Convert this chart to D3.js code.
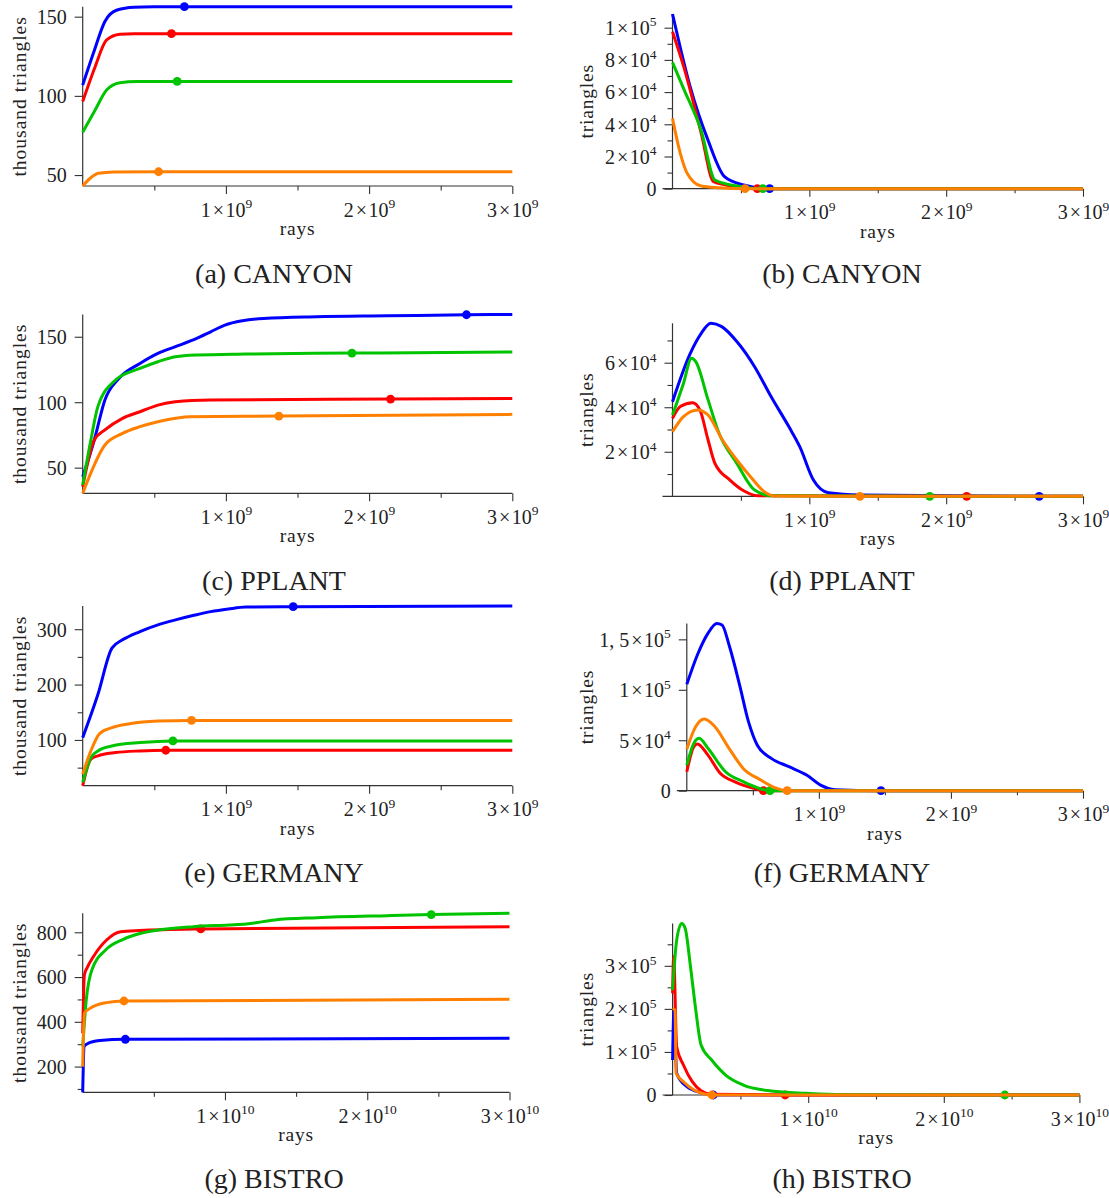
<!DOCTYPE html>
<html><head><meta charset="utf-8">
<script src="https://cdn.jsdelivr.net/npm/d3@7"></script>
<style>
body{margin:0;background:#fff}
text{font-family:"Liberation Serif","Times New Roman",serif;fill:#222}
</style>
</head><body>
<svg id="c" width="1109" height="1198" style="background:#fff"></svg>
<script>
// ---- colours in series order: blue, red, green, orange
const seriesColors = ["#0000ff", "#ff0000", "#00c400", "#ff8000"];

// ---- tick values
const xMajor9 = [1e9, 2e9, 3e9];
const xMinor9 = [0.5e9, 1.5e9, 2.5e9];
const xMajor10 = [1e10, 2e10, 3e10];
const xMinor10 = [0.5e10, 1.5e10, 2.5e10];
const aYMajor = [50, 100, 150];
const bYMajor = [0, 2e4, 4e4, 6e4, 8e4, 1e5];
const bYMinor = [1e4, 3e4, 5e4, 7e4, 9e4];
const cYMajor = [50, 100, 150];
const dYMajor = [2e4, 4e4, 6e4];
const dYMinor = [1e4, 3e4, 5e4, 7e4];
const eYMajor = [100, 200, 300];
const eYMinor = [50, 150, 250];
const fYMajor = [0, 5e4, 1e5, 1.5e5];
const gYMajor = [200, 400, 600, 800];
const gYMinor = [100, 300, 500, 700];
const hYMajor = [0, 1e5, 2e5, 3e5];
const hYMinor = [5e4, 1.5e5, 2.5e5, 3.5e5];

// ---- (a) CANYON: thousand triangles vs rays
const canyonTotalBlue = [[0,106.8],[0.075e9,127],[0.155e9,147],[0.24e9,154.2],[0.36e9,155.9],[0.5e9,156.2],[0.71e9,156.3],[3e9,156.3]];
const canyonTotalRed = [[0,96.4],[0.087e9,118.4],[0.167e9,135.3],[0.26e9,138.9],[0.36e9,139.3],[0.62e9,139.3],[3e9,139.3]];
const canyonTotalGreen = [[0,77],[0.087e9,91.1],[0.167e9,103.7],[0.26e9,108.3],[0.38e9,109.1],[0.66e9,109.1],[3e9,109.1]];
const canyonTotalOrange = [[0,43.1],[0.052e9,48],[0.11e9,51.1],[0.215e9,52],[0.53e9,52.1],[3e9,52.1]];
const canyonDots = [[0.71e9,156.3],[0.62e9,139.3],[0.66e9,109.1],[0.53e9,52.1]];
// ---- (b) CANYON: triangles vs rays
const canyonNewBlue = [[0,108.5e3],[0.056e9,88e3],[0.13e9,63e3],[0.26e9,30e3],[0.38e9,7.5e3],[0.52e9,2.3e3],[0.71e9,0],[3e9,0]];
const canyonNewRed = [[0,97.5e3],[0.082e9,75.8e3],[0.21e9,34.4e3],[0.30e9,4.3e3],[0.39e9,2.3e3],[0.62e9,0],[3e9,0]];
const canyonNewGreen = [[0,78.5e3],[0.082e9,62e3],[0.21e9,36e3],[0.31e9,5.4e3],[0.47e9,1.7e3],[0.66e9,0],[3e9,0]];
const canyonNewOrange = [[0,43.7e3],[0.057e9,22e3],[0.108e9,9.5e3],[0.21e9,1.7e3],[0.34e9,0.6e3],[0.53e9,0],[3e9,0]];

// ---- (c) PPLANT
const pplantTotalBlue = [[0,43.1],[0.081e9,71.1],[0.155e9,101.7],[0.254e9,118.2],[0.40e9,129.6],[0.525e9,137.3],[0.648e9,142.4],[0.796e9,148.7],[0.894e9,153.8],[0.993e9,158.9],[1.116e9,162.2],[1.264e9,164],[1.633e9,165.3],[2.126e9,166],[2.68e9,166.8],[3e9,167]];
const pplantTotalRed = [[0,35.5],[0.081e9,71.1],[0.155e9,78.8],[0.278e9,87.7],[0.40e9,92.7],[0.525e9,97.8],[0.648e9,100.4],[0.894e9,101.7],[2.15e9,102.4],[3e9,102.9]];
const pplantTotalGreen = [[0,36.8],[0.057e9,71.1],[0.106e9,96.6],[0.229e9,116.9],[0.40e9,125.8],[0.525e9,130.9],[0.648e9,134.7],[0.796e9,136],[1.14e9,136.8],[1.88e9,137.5],[3e9,138.3]];
const pplantTotalOrange = [[0,30.4],[0.155e9,67.3],[0.278e9,76.2],[0.40e9,81.3],[0.525e9,85.1],[0.648e9,87.7],[0.746e9,88.9],[1.37e9,89.4],[3e9,90.7]];
const pplantDots = [[2.68e9,166.8],[2.15e9,102.4],[1.88e9,137.5],[1.37e9,89.4]];
// ---- (d) PPLANT
const pplantNewBlue = [[0,42.5e3],[0.13e9,64.2e3],[0.21e9,73.2e3],[0.28e9,77.7e3],[0.36e9,76.2e3],[0.47e9,69.5e3],[0.6e9,58.2e3],[0.72e9,44.8e3],[0.85e9,31.3e3],[0.93e9,22.3e3],[1.03e9,7.3e3],[1.14e9,1.6e3],[1.37e9,0.6e3],[2.68e9,0],[3e9,0]];
const pplantNewRed = [[0,35e3],[0.057e9,40.3e3],[0.147e9,42e3],[0.2e9,38.8e3],[0.26e9,25.3e3],[0.31e9,14.8e3],[0.42e9,7.3e3],[0.52e9,2.5e3],[0.62e9,0.3e3],[2.15e9,0],[3e9,0]];
const pplantNewGreen = [[0,36.5e3],[0.08e9,50.7e3],[0.139e9,62e3],[0.17e9,60.5e3],[0.26e9,43.3e3],[0.34e9,28.3e3],[0.47e9,14.8e3],[0.6e9,2.8e3],[0.72e9,0.3e3],[1.88e9,0],[3e9,0]];
const pplantNewOrange = [[0,29e3],[0.08e9,35.8e3],[0.185e9,38.8e3],[0.26e9,36.5e3],[0.365e9,25.3e3],[0.47e9,16.3e3],[0.57e9,8.8e3],[0.67e9,2.1e3],[0.75e9,0.1e3],[1.37e9,0],[3e9,0]];

// ---- (e) GERMANY
const germanyTotalBlue = [[0,104.2],[0.106e9,182],[0.204e9,265.9],[0.278e9,280.8],[0.40e9,295.8],[0.525e9,307.8],[0.648e9,316.8],[0.77e9,324.6],[0.894e9,331.7],[1.017e9,336.5],[1.14e9,340],[1.47e9,340.7],[3e9,341.9]];
const germanyTotalRed = [[0,17.4],[0.057e9,65.3],[0.106e9,71.3],[0.229e9,77.2],[0.40e9,80.2],[0.58e9,81.4],[3e9,81.4]];
const germanyTotalGreen = [[0,23.3],[0.057e9,68.3],[0.106e9,80.2],[0.204e9,89.2],[0.40e9,95.2],[0.63e9,98.2],[3e9,98.2]];
const germanyTotalOrange = [[0,38.3],[0.057e9,80.2],[0.118e9,111.4],[0.204e9,122.2],[0.328e9,129.3],[0.525e9,134.1],[0.76e9,135.3],[3e9,135.3]];
const germanyDots = [[1.47e9,340.7],[0.58e9,81.4],[0.63e9,98.2],[0.76e9,135.3]];
// ---- (f) GERMANY
const germanyNewBlue = [[0,105.4e3],[0.08e9,134.5e3],[0.16e9,155.9e3],[0.227e9,165.8e3],[0.267e9,164.2e3],[0.32e9,144.4e3],[0.4e9,104.7e3],[0.467e9,68.4e3],[0.533e9,45.3e3],[0.64e9,32e3],[0.773e9,23.8e3],[0.907e9,15.5e3],[1.013e9,5.6e3],[1.12e9,1e3],[1.47e9,0],[3e9,0]];
const germanyNewRed = [[0,18.8e3],[0.053e9,43.6e3],[0.08e9,46.3e3],[0.16e9,35.3e3],[0.253e9,17.2e3],[0.373e9,8.3e3],[0.507e9,2.3e3],[0.58e9,0],[3e9,0]];
const germanyNewGreen = [[0,25.4e3],[0.053e9,46.9e3],[0.093e9,51.9e3],[0.16e9,42e3],[0.293e9,18.8e3],[0.427e9,8.9e3],[0.533e9,3e3],[0.63e9,0],[3e9,0]];
const germanyNewOrange = [[0,41.3e3],[0.067e9,63.4e3],[0.133e9,71e3],[0.213e9,63.4e3],[0.32e9,42e3],[0.427e9,22.1e3],[0.56e9,10.6e3],[0.667e9,3e3],[0.76e9,0],[3e9,0]];

// ---- (g) BISTRO
const bistroTotalBlue = [[0,85],[0.01e10,290],[0.03e10,301],[0.12e10,316],[0.30e10,322],[3e10,326.3]];
const bistroTotalRed = [[0,348.6],[0.012e10,610],[0.03e10,640],[0.075e10,691],[0.168e10,765.6],[0.267e10,802.7],[0.40e10,808],[0.83e10,814.9],[3e10,825.3]];
const bistroTotalGreen = [[0,289],[0.025e10,497.6],[0.064e10,631.7],[0.161e10,721],[0.285e10,768.7],[0.409e10,795.5],[0.532e10,810.4],[0.78e10,825.3],[1.027e10,832.8],[1.151e10,837.2],[1.349e10,855.1],[1.646e10,865.5],[2.141e10,874.5],[2.45e10,879],[3e10,884.9]];
const bistroTotalOrange = [[0,199.7],[0.012e10,438],[0.051e10,460],[0.168e10,485.7],[0.29e10,493],[3e10,500.6]];
const bistroDots = [[0.30e10,322],[0.83e10,814.9],[2.45e10,879],[0.29e10,493]];
// ---- (h) BISTRO
const bistroNewBlue = [[0,81.2e3],[0.01e10,197e3],[0.03e10,50.3e3],[0.106e10,19.3e3],[0.21e10,5.4e3],[0.30e10,0],[3e10,0]];
const bistroNewRed = [[0,236e3],[0.008e10,321e3],[0.03e10,112e3],[0.08e10,69.6e3],[0.145e10,30.9e3],[0.21e10,10e3],[0.288e10,1.5e3],[0.83e10,0],[3e10,0]];
const bistroNewGreen = [[0,243.6e3],[0.03e10,359.6e3],[0.067e10,398.3e3],[0.093e10,386.7e3],[0.132e10,297.8e3],[0.171e10,197.2e3],[0.21e10,116e3],[0.288e10,81.2e3],[0.391e10,46.4e3],[0.521e10,23.2e3],[0.728e10,9.3e3],[0.987e10,3.9e3],[1.246e10,0.8e3],[2.45e10,0],[3e10,0]];
const bistroNewOrange = [[0,201e3],[0.018e10,197e3],[0.026e10,50.3e3],[0.08e10,30.9e3],[0.158e10,11.6e3],[0.236e10,2.3e3],[0.29e10,0],[3e10,0]];

// ---- panel layout
const panels = [
 {cap:"(a) CANYON", series:[canyonTotalBlue,canyonTotalRed,canyonTotalGreen,canyonTotalOrange], dots:canyonDots, right:false, xMax:3e9, xMajor:xMajor9, xMinor:xMinor9, yMajor:aYMajor, yMinor:[], box:{l:82.7,r:512.3,t:6.7,b:186}, capY:282.7},
 {cap:"(b) CANYON", series:[canyonNewBlue,canyonNewRed,canyonNewGreen,canyonNewOrange], dots:canyonDots, right:true, xMax:3e9, xMajor:xMajor9, xMinor:xMinor9, yMajor:bYMajor, yMinor:bYMinor, box:{l:672.5,r:1083,t:14,b:188.7}, capY:282.7},
 {cap:"(c) PPLANT", series:[pplantTotalBlue,pplantTotalRed,pplantTotalGreen,pplantTotalOrange], dots:pplantDots, right:false, xMax:3e9, xMajor:xMajor9, xMinor:xMinor9, yMajor:cYMajor, yMinor:[], box:{l:82.7,r:512.3,t:314.5,b:493.3}, capY:590},
 {cap:"(d) PPLANT", series:[pplantNewBlue,pplantNewRed,pplantNewGreen,pplantNewOrange], dots:pplantDots, right:true, xMax:3e9, xMajor:xMajor9, xMinor:xMinor9, yMajor:dYMajor, yMinor:dYMinor, box:{l:672.5,r:1083,t:323.3,b:496.3}, capY:590},
 {cap:"(e) GERMANY", series:[germanyTotalBlue,germanyTotalRed,germanyTotalGreen,germanyTotalOrange], dots:germanyDots, right:false, xMax:3e9, xMajor:xMajor9, xMinor:xMinor9, yMajor:eYMajor, yMinor:eYMinor, box:{l:82.7,r:512.3,t:606,b:785.7}, capY:882.3},
 {cap:"(f) GERMANY", series:[germanyNewBlue,germanyNewRed,germanyNewGreen,germanyNewOrange], dots:germanyDots, right:true, xMax:3e9, xMajor:xMajor9, xMinor:xMinor9, yMajor:fYMajor, yMinor:[], box:{l:686.8,r:1083,t:623.4,b:790.7}, capY:882.3},
 {cap:"(g) BISTRO", series:[bistroTotalBlue,bistroTotalRed,bistroTotalGreen,bistroTotalOrange], dots:bistroDots, right:false, xMax:3e10, xMajor:xMajor10, xMinor:xMinor10, yMajor:gYMajor, yMinor:gYMinor, box:{l:82.7,r:509.5,t:913.3,b:1092.3}, capY:1188.3},
 {cap:"(h) BISTRO", series:[bistroNewBlue,bistroNewRed,bistroNewGreen,bistroNewOrange], dots:bistroDots, right:true, xMax:3e10, xMajor:xMajor10, xMinor:xMinor10, yMajor:hYMajor, yMinor:hYMinor, box:{l:672.6,r:1079.4,t:923.5,b:1095}, capY:1188.3}
];

const svg = d3.select("#c");
const AX = "#333";
const TICK_FS = 20;

function sciLabel(t, v) {
  if (v === 0) { t.text("0"); return; }
  const e = Math.floor(Math.log10(v) + 1e-9);
  const m = +(v / Math.pow(10, e)).toFixed(2);
  const ms = String(m).replace(".", ", ");
  t.append("tspan").text(ms);
  t.append("tspan").attr("dx", 2).text("\u00d7");
  t.append("tspan").attr("dx", 1.5).text("10");
  t.append("tspan").attr("font-size", 13.5).attr("dy", -8.5).text(e);
}

panels.forEach(p => {
  const g = svg.append("g");
  const x = d3.scaleLinear().domain([0, p.xMax]).range([p.box.l, p.box.r]);
  const allY = p.series.flat().map(d => d[1]);
  const y = d3.scaleLinear()
    .domain(p.right ? [0, d3.max(allY)] : d3.extent(allY))
    .range([p.box.b, p.box.t]);

  // axis lines
  g.append("line").attr("x1", p.box.l).attr("x2", p.box.l).attr("y1", p.box.t).attr("y2", p.box.b)
    .attr("stroke", AX).attr("stroke-width", 1.2);
  g.append("line").attr("x1", p.right ? p.box.l - 10 : p.box.l).attr("x2", p.box.r)
    .attr("y1", p.box.b).attr("y2", p.box.b).attr("stroke", AX).attr("stroke-width", 1.2);

  // x axis ticks
  const gxm = g.append("g").attr("transform", `translate(0,${p.box.b})`)
    .call(d3.axisBottom(x).tickValues(p.xMinor).tickSize(4.5).tickSizeOuter(0).tickFormat(""));
  const gx = g.append("g").attr("transform", `translate(0,${p.box.b})`)
    .call(d3.axisBottom(x).tickValues(p.xMajor).tickSize(8).tickSizeOuter(0));
  [gxm, gx].forEach(a => { a.select(".domain").remove(); a.attr("color", AX).attr("font-family", null).attr("font-size", TICK_FS); a.selectAll("line").attr("stroke-width", 1.1); });
  gx.selectAll(".tick text").each(function(d) {
    const t = d3.select(this); t.text(null); sciLabel(t, d);
  }).attr("y", 30.5).attr("dy", 0).attr("fill", "#222").attr("text-anchor", "middle");

  // y axis ticks
  const gym = g.append("g").attr("transform", `translate(${p.box.l},0)`)
    .call(d3.axisLeft(y).tickValues(p.yMinor).tickSize(5).tickSizeOuter(0).tickFormat(""));
  const gy = g.append("g").attr("transform", `translate(${p.box.l},0)`)
    .call(d3.axisLeft(y).tickValues(p.yMajor).tickSize(8).tickSizeOuter(0).tickFormat(d3.format("d")));
  [gym, gy].forEach(a => { a.select(".domain").remove(); a.attr("color", AX).attr("font-family", null).attr("font-size", TICK_FS); a.selectAll("line").attr("stroke-width", 1.1); });
  gy.selectAll(".tick text").each(function(d) {
    const t = d3.select(this);
    if (p.right) { t.text(null); sciLabel(t, d); }
  }).attr("x", -16).attr("dy", "0.34em").attr("fill", "#222");

  // lines and dots
  const line = d3.line().x(d => x(d[0])).y(d => y(d[1])).curve(d3.curveMonotoneX);
  p.series.forEach((s, i) => {
    g.append("path").datum(s).attr("d", line).attr("fill", "none")
      .attr("stroke", seriesColors[i]).attr("stroke-width", 3)
      .attr("stroke-linejoin", "round").attr("stroke-linecap", "butt");
    const dp = p.dots[i];
    g.append("circle").attr("cx", x(dp[0])).attr("cy", y(p.right ? 0 : dp[1]))
      .attr("r", 4.4).attr("fill", seriesColors[i]);
  });

  // labels
  const cy = (p.box.t + p.box.b) / 2;
  const lx = p.right ? 593 : 26;
  g.append("text").attr("transform", `translate(${lx},${cy}) rotate(-90)`)
    .attr("text-anchor", "middle").attr("font-size", 19.5).attr("letter-spacing", p.right ? 0.8 : 1.0)
    .text(p.right ? "triangles" : "thousand triangles");
  g.append("text").attr("x", (p.box.l + p.box.r) / 2).attr("y", p.box.b + 49)
    .attr("text-anchor", "middle").attr("font-size", 19.5).attr("letter-spacing", 0.8).text("rays");
  g.append("text").attr("x", p.right ? 842 : 274).attr("y", p.capY)
    .attr("text-anchor", "middle").attr("font-size", 28).text(p.cap);
});
</script>
</body></html>
